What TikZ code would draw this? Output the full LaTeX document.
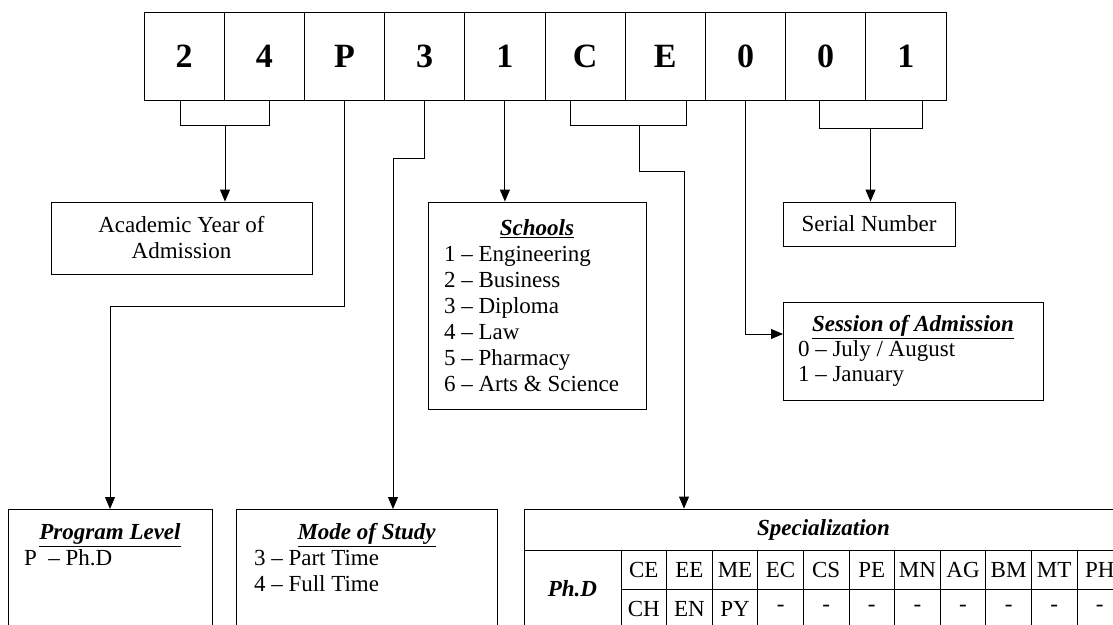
\documentclass[tikz,border=0pt]{standalone}
\usepackage{fontspec}
\setmainfont{Liberation Serif}
\usetikzlibrary{arrows.meta,calc}
\tikzset{
 cell/.style={draw, line width=0.9pt, minimum width=80.2pt, minimum height=88pt, inner sep=0pt, font=\fontsize{34}{38}\selectfont\bfseries},
 brk/.style={draw, line width=0.9pt, inner sep=0pt},
 box/.style={draw, line width=0.9pt, inner sep=0pt, font=\fontsize{23}{26}\selectfont},
 conn/.style={line width=0.9pt, -{Triangle[width=10pt,length=12pt]}},
 tcell/.style={draw, line width=0.9pt, minimum width=45.6pt, minimum height=39pt, inner sep=0pt, font=\fontsize{23}{26}\selectfont},
}
\newcommand{\ttl}[1]{\textbf{\textit{\underline{#1}}}}
\begin{document}
\begin{tikzpicture}[x=1pt,y=-1pt]
\useasboundingbox (0,0) rectangle (1113,624);
\clip (0,0) rectangle (1113,624);
% top code cells
\foreach \t [count=\i] in {2,4,P,3,1,C,E,0,0,1} {
  \node[cell] (c\i) at ({144+80.2*(\i-0.5)},56) {\t};
}
% brackets
\node[brk, minimum width=89pt, minimum height=25pt] (b1) at (225,112.5) {};
\node[brk, minimum width=116pt, minimum height=25pt] (b2) at (628,112.5) {};
\node[brk, minimum width=103pt, minimum height=28pt] (b3) at (870.5,114) {};
% boxes
\node[box, minimum width=261pt, minimum height=72pt, align=center] (acad) at (181.5,238) {Academic Year of\\Admission};
\node[box, minimum width=218pt, minimum height=207pt] (schools) at (537,305.5)
 {\parbox{186pt}{\centering\ttl{Schools}\par\raggedright
 1 – Engineering\\2 – Business\\3 – Diploma\\4 – Law\\5 – Pharmacy\\6 – Arts \& Science}};
\node[box, minimum width=172pt, minimum height=44pt] (serial) at (869,224) {Serial Number};
\node[box, minimum width=260pt, minimum height=98pt, font=\fontsize{23}{25}\selectfont] (session) at (913,351)
 {\parbox{230pt}{\centering\ttl{Session of Admission}\par\raggedright
 0 – July / August\\1 – January}};
\node[box, anchor=north, inner xsep=16pt, inner ysep=14pt] (prog) at (110,509)
 {\parbox[c][150pt][t]{172pt}{\centering\ttl{Program Level}\par\raggedright
 P\ \ – Ph.D}};
\node[box, anchor=north, inner xsep=18pt, inner ysep=14pt] (mode) at (366.5,509)
 {\parbox[c][150pt][t]{225pt}{\centering\ttl{Mode of Study}\par\raggedright
 3 – Part Time\\4 – Full Time}};
% specialization table
\node[box, minimum width=599pt, minimum height=41pt, font=\fontsize{23}{26}\selectfont\bfseries\itshape] (spec) at (823.5,529.5) {Specialization};
\node[box, minimum width=97pt, minimum height=78pt, font=\fontsize{23}{26}\selectfont\bfseries\itshape] (phd) at (572.5,589) {Ph.D};
\foreach \t [count=\i] in {CE,EE,ME,EC,CS,PE,MN,AG,BM,MT,PH} {
  \node[tcell] (r1c\i) at ({621+45.6*(\i-0.5)},569.5) {\t};
}
\foreach \t [count=\i] in {CH,EN,PY,-,-,-,-,-,-,-,-} {
  \node[tcell] (r2c\i) at ({621+45.6*(\i-0.5)},608.5) {\t};
}
% connectors
\draw[conn] (b1.south) -- (b1.south |- acad.north);
\draw[conn] (c3.south) -- ++(0,206) -| (prog.north);
\coordinate (j3) at (393,158);
\draw[conn] (c4.south) |- (j3) -- (j3 |- mode.north);
\draw[conn] (c5.south) -- (c5.south |- schools.north);
\coordinate (jce) at (684,171);
\draw[conn] ($(b2.south)+(11,0)$) |- (jce) -- (jce |- spec.north);
\coordinate (sin) at (783,334);
\draw[conn] (c8.south) |- (sin);
\draw[conn] (b3.south) -- (b3.south |- serial.north);
\end{tikzpicture}
\end{document}
